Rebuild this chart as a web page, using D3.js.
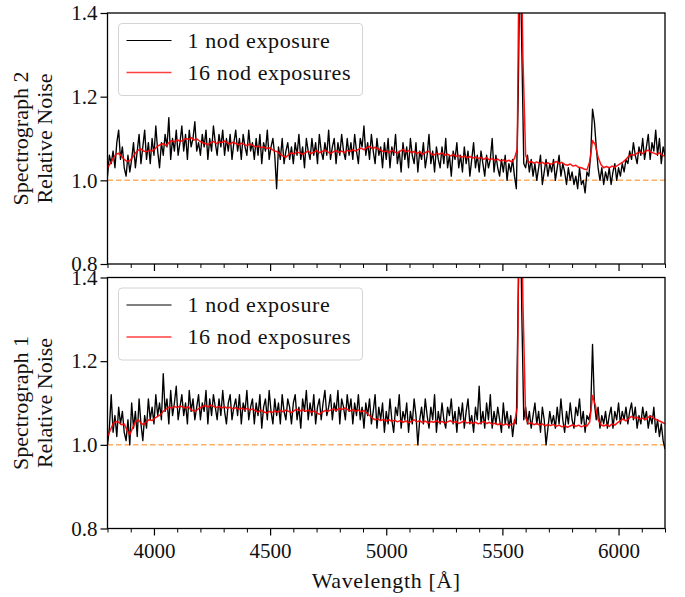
<!DOCTYPE html>
<html>
<head>
<meta charset="utf-8">
<script src="https://cdn.jsdelivr.net/npm/d3@7"></script>
<style>
  body { margin: 0; background: #fff; }
  svg text { font-family: 'Liberation Serif', 'DejaVu Serif', serif; }
</style>
</head>
<body>
<script>
// wavelength grids (Angstrom)
const waveStart = 3800, waveEnd = 6200;
const stepBlack = 8, stepRed = 12;

// spectrograph 2, single nod exposure
const s2Black = [
  1.01, 1.06, 1.04, 1.07, 1.03, 1.09, 1.12, 1.05, 1.08, 1.03,
  1.01, 1.06, 1.02, 1.05, 1.09, 1.03, 1.07, 1.11, 1.04, 1.08,
  1.12, 1.05, 1.09, 1.04, 1.10, 1.06, 1.13, 1.07, 1.03, 1.09,
  1.06, 1.11, 1.08, 1.15, 1.05, 1.10, 1.07, 1.12, 1.06, 1.09,
  1.13, 1.07, 1.11, 1.05, 1.12, 1.08, 1.10, 1.14, 1.07, 1.09,
  1.06, 1.11, 1.08, 1.12, 1.05, 1.10, 1.07, 1.13, 1.09, 1.06,
  1.11, 1.08, 1.12, 1.06, 1.10, 1.07, 1.11, 1.05, 1.09, 1.12,
  1.07, 1.10, 1.05, 1.11, 1.08, 1.06, 1.12, 1.07, 1.09, 1.05,
  1.10, 1.06, 1.11, 1.04, 1.09, 1.07, 1.12, 1.05, 1.08, 1.10,
  1.06, 0.98, 1.08, 1.05, 1.10, 1.04, 1.07, 1.09, 1.05, 1.08,
  1.04, 1.09, 1.06, 1.11, 1.05, 1.08, 1.03, 1.10, 1.07, 1.05,
  1.10, 1.06, 1.09, 1.04, 1.11, 1.07, 1.05, 1.09, 1.06, 1.12,
  1.05, 1.08, 1.10, 1.04, 1.09, 1.06, 1.11, 1.07, 1.05, 1.10,
  1.06, 1.09, 1.05, 1.11, 1.07, 1.04, 1.10, 1.08, 1.13, 1.06,
  1.09, 1.05, 1.11, 1.07, 1.04, 1.10, 1.06, 1.08, 1.03, 1.09,
  1.05, 1.10, 1.03, 1.08, 1.06, 1.11, 1.04, 1.07, 1.02, 1.09,
  1.05, 1.08, 1.03, 1.10, 1.06, 1.04, 1.09, 1.02, 1.07, 1.05,
  1.09, 1.03, 1.06, 1.11, 1.04, 1.07, 1.02, 1.08, 1.05, 1.03,
  1.08, 1.04, 1.10, 1.03, 1.06, 1.01, 1.07, 1.05, 1.09, 1.03,
  1.06, 1.02, 1.08, 1.04, 1.07, 1.01, 1.05, 1.09, 1.03, 1.06,
  1.02, 1.07, 1.04, 1.01, 1.06, 1.03, 1.05, 1.10, 1.02, 1.06,
  1.03, 1.01, 1.05, 1.02, 1.06, 1.00, 1.04, 1.02, 1.05, 1.01,
  0.98, 1.20, 1.55, 1.30, 1.04, 1.03, 1.06, 1.02, 1.05, 1.01,
  1.04, 1.00, 1.03, 1.06, 0.99, 1.02, 1.05, 1.01, 1.04, 1.02,
  1.05, 1.00, 1.03, 1.06, 1.01, 1.04, 1.02, 0.99, 1.03, 1.00,
  1.02, 0.99, 1.01, 0.98, 1.03, 0.99, 1.00, 0.97, 1.02, 1.01,
  1.06, 1.17, 1.14, 1.08, 1.03, 1.00, 1.03, 0.99, 1.02, 1.00,
  1.03, 0.99, 1.02, 1.04, 1.00, 1.03, 1.01, 1.04, 1.02, 1.05,
  1.04, 1.07, 1.05, 1.09, 1.06, 1.04, 1.08, 1.06, 1.10, 1.05,
  1.08, 1.11, 1.05, 1.09, 1.07, 1.12, 1.06, 1.10, 1.04, 1.08,
  1.06
];

// spectrograph 2, 16 nod exposures
const s2Red = [
  1.030, 1.040, 1.052, 1.062, 1.065, 1.058, 1.050, 1.045, 1.047, 1.055,
  1.065, 1.072, 1.075, 1.070, 1.068, 1.072, 1.070, 1.075, 1.082, 1.085,
  1.088, 1.083, 1.090, 1.095, 1.092, 1.097, 1.093, 1.095, 1.100, 1.098,
  1.102, 1.096, 1.099, 1.094, 1.090, 1.088, 1.085, 1.090, 1.093, 1.088,
  1.092, 1.090, 1.094, 1.089, 1.087, 1.091, 1.088, 1.085, 1.089, 1.086,
  1.083, 1.087, 1.084, 1.080, 1.082, 1.078, 1.080, 1.076, 1.078, 1.074,
  1.070, 1.068, 1.062, 1.058, 1.055, 1.062, 1.066, 1.063, 1.068, 1.065,
  1.062, 1.066, 1.070, 1.064, 1.067, 1.071, 1.066, 1.069, 1.072, 1.068,
  1.064, 1.068, 1.071, 1.067, 1.070, 1.066, 1.072, 1.069, 1.073, 1.070,
  1.074, 1.077, 1.073, 1.078, 1.081, 1.076, 1.079, 1.075, 1.072, 1.068,
  1.070, 1.066, 1.072, 1.068, 1.065, 1.070, 1.074, 1.068, 1.071, 1.066,
  1.069, 1.064, 1.068, 1.062, 1.066, 1.070, 1.064, 1.060, 1.065, 1.062,
  1.066, 1.060, 1.063, 1.058, 1.062, 1.057, 1.060, 1.055, 1.058, 1.054,
  1.057, 1.053, 1.056, 1.052, 1.055, 1.050, 1.054, 1.049, 1.052, 1.048,
  1.051, 1.046, 1.049, 1.045, 1.048, 1.044, 1.052, 1.075, 1.800, 1.300,
  1.060, 1.042, 1.045, 1.041, 1.044, 1.040, 1.043, 1.039, 1.042, 1.038,
  1.041, 1.045, 1.040, 1.043, 1.038, 1.036, 1.039, 1.034, 1.036, 1.031,
  1.030, 1.027, 1.025, 1.045, 1.095, 1.085, 1.055, 1.038, 1.030, 1.033,
  1.030, 1.034, 1.031, 1.036, 1.040, 1.044, 1.050, 1.058, 1.062, 1.060,
  1.065, 1.068, 1.064, 1.070, 1.072, 1.067, 1.065, 1.062, 1.066, 1.060,
  1.058
];

// spectrograph 1, single nod exposure
const s1Black = [
  1.00, 1.04, 1.12, 1.03, 1.07, 1.02, 1.09, 1.05, 1.08, 1.03,
  1.01, 1.06, 1.00, 1.10, 1.04, 1.08, 1.02, 1.11, 1.05, 1.01,
  1.07, 1.04, 1.11, 1.06, 1.09, 1.05, 1.12, 1.07, 1.10, 1.06,
  1.17, 1.08, 1.11, 1.05, 1.13, 1.07, 1.10, 1.14, 1.06, 1.09,
  1.12, 1.07, 1.10, 1.05, 1.13, 1.08, 1.11, 1.06, 1.09, 1.12,
  1.06, 1.10, 1.08, 1.13, 1.05, 1.11, 1.07, 1.12, 1.09, 1.06,
  1.11, 1.07, 1.13, 1.08, 1.05, 1.10, 1.12, 1.06, 1.09, 1.11,
  1.07, 1.12, 1.05, 1.10, 1.08, 1.13, 1.06, 1.09, 1.11, 1.05,
  1.10, 1.07, 1.12, 1.04, 1.09, 1.11, 1.06, 1.13, 1.08, 1.05,
  1.11, 1.07, 1.10, 1.05, 1.12, 1.08, 1.06, 1.11, 1.09, 1.05,
  1.10, 1.12, 1.06, 1.09, 1.04, 1.11, 1.08, 1.13, 1.06, 1.10,
  1.07, 1.12, 1.05, 1.09, 1.11, 1.06, 1.10, 1.13, 1.07, 1.09,
  1.12, 1.06, 1.10, 1.08, 1.13, 1.05, 1.11, 1.09, 1.06, 1.12,
  1.08, 1.11, 1.05, 1.10, 1.07, 1.12, 1.06, 1.09, 1.04, 1.10,
  1.07, 1.11, 1.05, 1.08, 1.12, 1.04, 1.09, 1.06, 1.10, 1.03,
  1.08, 1.05, 1.11, 1.06, 1.03, 1.09, 1.07, 1.12, 1.04, 1.08,
  1.06, 1.10, 1.03, 1.08, 1.05, 1.11, 1.07, 1.00, 1.06, 1.09,
  1.05, 1.11, 1.07, 1.04, 1.09, 1.06, 1.12, 1.03, 1.08, 1.05,
  1.10, 1.06, 1.04, 1.09, 1.07, 1.11, 1.05, 1.08, 1.03, 1.09,
  1.06, 1.10, 1.04, 1.08, 1.11, 1.05, 1.07, 1.03, 1.09, 1.06,
  1.14, 1.05, 1.08, 1.04, 1.10, 1.06, 1.12, 1.04, 1.08, 1.05,
  1.09, 1.06, 1.03, 1.10, 1.05, 1.08, 1.04, 1.07, 1.02, 1.06,
  1.05, 1.35, 1.60, 1.30, 1.06, 1.09, 1.05, 1.08, 1.04, 1.07,
  1.10, 1.05, 1.08, 1.03, 1.09, 1.06, 1.00, 1.04, 1.08, 1.05,
  1.07, 1.04, 1.09, 1.05, 1.11, 1.06, 1.03, 1.08, 1.05, 1.10,
  1.06, 1.04, 1.09, 1.07, 1.11, 1.05, 1.08, 1.03, 1.07, 1.06,
  1.08, 1.24, 1.10, 1.06, 1.09, 1.04, 1.07, 1.05, 1.08, 1.04,
  1.07, 1.09, 1.04, 1.08, 1.06, 1.10, 1.05, 1.08, 1.06, 1.09,
  1.05, 1.08, 1.10, 1.06, 1.09, 1.04, 1.07, 1.05, 1.09, 1.06,
  1.08, 1.04, 1.07, 1.05, 1.09, 1.03, 1.06, 1.02, 1.05, 1.01,
  0.99
];

// spectrograph 1, 16 nod exposures
const s1Red = [
  1.020, 1.035, 1.050, 1.056, 1.054, 1.048, 1.050, 1.035, 1.024, 1.040,
  1.055, 1.060, 1.052, 1.048, 1.056, 1.060, 1.058, 1.064, 1.068, 1.072,
  1.080, 1.085, 1.090, 1.088, 1.092, 1.089, 1.093, 1.090, 1.088, 1.091,
  1.084, 1.080, 1.083, 1.088, 1.091, 1.094, 1.090, 1.095, 1.092, 1.089,
  1.092, 1.088, 1.091, 1.087, 1.090, 1.086, 1.089, 1.085, 1.088, 1.084,
  1.087, 1.083, 1.086, 1.082, 1.078, 1.083, 1.079, 1.076, 1.080, 1.077,
  1.081, 1.078, 1.082, 1.079, 1.083, 1.080, 1.077, 1.082, 1.085, 1.081,
  1.084, 1.080, 1.083, 1.078, 1.081, 1.077, 1.073, 1.078, 1.082, 1.080,
  1.083, 1.086, 1.082, 1.087, 1.084, 1.088, 1.085, 1.081, 1.084, 1.080,
  1.083, 1.079, 1.082, 1.076, 1.070, 1.064, 1.060, 1.062, 1.058, 1.061,
  1.057, 1.060, 1.056, 1.059, 1.055, 1.058, 1.054, 1.057, 1.053, 1.056,
  1.060, 1.055, 1.058, 1.053, 1.057, 1.052, 1.056, 1.054, 1.058, 1.053,
  1.056, 1.052, 1.055, 1.058, 1.053, 1.056, 1.051, 1.054, 1.057, 1.052,
  1.055, 1.051, 1.054, 1.050, 1.053, 1.056, 1.051, 1.054, 1.049, 1.052,
  1.048, 1.051, 1.047, 1.050, 1.046, 1.049, 1.052, 1.090, 1.850, 1.350,
  1.065, 1.050, 1.053, 1.048, 1.051, 1.047, 1.050, 1.045, 1.049, 1.046,
  1.049, 1.044, 1.047, 1.043, 1.046, 1.042, 1.045, 1.048, 1.044, 1.047,
  1.043, 1.046, 1.045, 1.055, 1.118, 1.095, 1.060, 1.048, 1.045, 1.048,
  1.044, 1.050, 1.047, 1.053, 1.058, 1.062, 1.057, 1.063, 1.068, 1.064,
  1.066, 1.061, 1.064, 1.060, 1.066, 1.069, 1.063, 1.060, 1.057, 1.054,
  1.050
];

const yTicks = [0.8, 1.0, 1.2, 1.4];
const xMajorTicks = [4000, 4500, 5000, 5500, 6000];
const xMinorTicks = d3.range(3800, 6201, 100).filter(d => !xMajorTicks.includes(d));
const legendLabels = ['1 nod exposure', '16 nod exposures'];

const width = 685;
const height = 597;
const margins = {left: 107.5, right: 20};
const panelHeight = 251;
const panelTops = [13, 277.5];
const tickFont = 21;
const labelFont = 22;

const panels = [
  {name: 'Spectrograph 2', black: s2Black, red: s2Red, top: panelTops[0], showX: false},
  {name: 'Spectrograph 1', black: s1Black, red: s1Red, top: panelTops[1], showX: true},
];

const xScale = d3.scaleLinear([waveStart, waveEnd], [margins.left, width - margins.right]);
const waveBlack = d3.range(waveStart, waveEnd + 1, stepBlack);
const waveRed = d3.range(waveStart, waveEnd + 1, stepRed);

const svg = d3.select('body').append('svg')
  .attr('width', width)
  .attr('height', height);

panels.forEach((p, i) => {
  const yScale = d3.scaleLinear([0.8, 1.4], [p.top + panelHeight, p.top]);
  const g = svg.append('g');

  // clip to the axes box
  svg.append('clipPath')
    .attr('id', `clip${i}`)
    .append('rect')
    .attr('x', margins.left)
    .attr('y', p.top)
    .attr('width', xScale.range()[1] - margins.left)
    .attr('height', panelHeight);

  const line = d3.line()
    .x(d => xScale(d[0]))
    .y(d => yScale(d[1]));

  const plot = g.append('g').attr('clip-path', `url(#clip${i})`);

  // reference level
  plot.append('line')
    .attr('x1', xScale(waveStart)).attr('x2', xScale(waveEnd))
    .attr('y1', yScale(1.0)).attr('y2', yScale(1.0))
    .attr('stroke', '#ffad60')
    .attr('stroke-width', 1.5)
    .attr('stroke-dasharray', '5.5,3');

  plot.append('path')
    .attr('d', line(waveBlack.map((w, j) => [w, p.black[j]])))
    .attr('fill', 'none')
    .attr('stroke', 'black')
    .attr('stroke-width', 1.35)
    .attr('stroke-linejoin', 'round');

  plot.append('path')
    .attr('d', line(waveRed.map((w, j) => [w, p.red[j]])))
    .attr('fill', 'none')
    .attr('stroke', '#ff0000')
    .attr('stroke-opacity', 0.92)
    .attr('stroke-width', 1.5)
    .attr('stroke-linejoin', 'round');

  // y axis
  const gy = g.append('g')
    .attr('transform', `translate(${margins.left}, 0)`)
    .call(d3.axisLeft(yScale).tickValues(yTicks).tickFormat(d3.format('.1f')).tickSize(7).tickPadding(3));
  gy.select('.domain').remove();
  gy.selectAll('.tick line').attr('stroke-width', 1.2);
  gy.selectAll('.tick text').attr('font-size', tickFont).attr('font-family', null).attr('fill', '#111');

  // x axis: major + minor ticks
  const gx = g.append('g')
    .attr('transform', `translate(0, ${p.top + panelHeight})`)
    .call(d3.axisBottom(xScale).tickValues(xMajorTicks).tickSize(7).tickPadding(8)
      .tickFormat(p.showX ? d3.format('d') : () => ''));
  gx.select('.domain').remove();
  gx.selectAll('.tick line').attr('stroke-width', 1.2);
  gx.selectAll('.tick text').attr('font-size', tickFont).attr('font-family', null).attr('fill', '#111');

  const gm = g.append('g')
    .attr('transform', `translate(0, ${p.top + panelHeight})`)
    .call(d3.axisBottom(xScale).tickValues(xMinorTicks).tickSize(4).tickFormat(() => ''));
  gm.select('.domain').remove();
  gm.selectAll('.tick line').attr('stroke-width', 1);

  // frame
  g.append('rect')
    .attr('x', margins.left)
    .attr('y', p.top)
    .attr('width', xScale.range()[1] - margins.left)
    .attr('height', panelHeight)
    .attr('fill', 'none')
    .attr('stroke', 'black')
    .attr('stroke-width', 1.3);

  // y label, two lines
  const cy = p.top + panelHeight / 2;
  const ylab = g.append('text')
    .attr('transform', `translate(28, ${cy}) rotate(-90)`)
    .attr('text-anchor', 'middle')
    .attr('font-size', labelFont)
    .attr('fill', '#111');
  ylab.append('tspan').attr('x', 0).attr('y', 0).text(p.name);
  ylab.append('tspan').attr('x', 0).attr('y', 24).text('Relative Noise');

  // legend
  const lg = g.append('g').attr('transform', `translate(118.5, ${p.top + 10.5})`);
  lg.append('rect')
    .attr('width', 244)
    .attr('height', 72)
    .attr('rx', 3.5)
    .attr('fill', 'white')
    .attr('fill-opacity', 0.85)
    .attr('stroke', '#d4d4d4');
  const rows = [{color: 'black', w: 1.1}, {color: '#ff4040', w: 1.4}];
  rows.forEach((r, k) => {
    const yy = 17 + k * 32;
    lg.append('line')
      .attr('x1', 8).attr('x2', 53)
      .attr('y1', yy).attr('y2', yy)
      .attr('stroke', r.color)
      .attr('stroke-width', r.w);
    lg.append('text')
      .attr('x', 69)
      .attr('y', yy)
      .attr('dy', '0.33em')
      .attr('font-size', labelFont)
      .attr('letter-spacing', 0.6)
      .attr('fill', '#111')
      .text(legendLabels[k]);
  });
});

// x label
svg.append('text')
  .attr('x', (margins.left + xScale.range()[1]) / 2)
  .attr('y', 588)
  .attr('text-anchor', 'middle')
  .attr('font-size', labelFont)
  .attr('letter-spacing', 0.6)
  .attr('fill', '#111')
  .text('Wavelength [Å]');
</script>
</body>
</html>
